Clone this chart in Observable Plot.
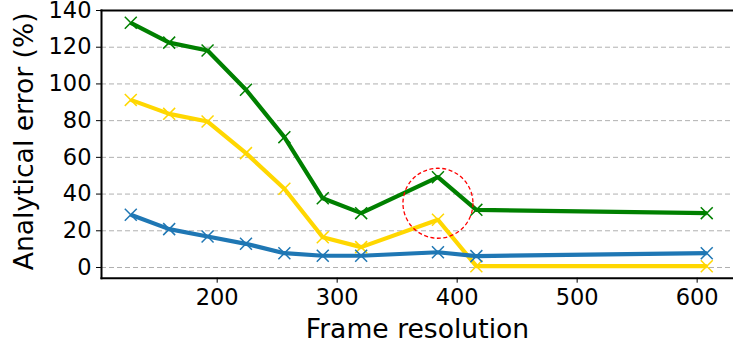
<!DOCTYPE html>
<html>
<head>
<meta charset="utf-8">
<script src="https://cdn.jsdelivr.net/npm/d3@7"></script>
<script src="https://cdn.jsdelivr.net/npm/@observablehq/plot@0.6"></script>
<style>
  html, body { margin: 0; padding: 0; background: #fff; }
  #chart svg { display: block; font-family: "DejaVu Sans", sans-serif; }
</style>
</head>
<body>
<div id="chart"></div>
<script>
// Frame resolution on the x axis
const resolutions = [128, 160, 192, 224, 256, 288, 320, 384, 416, 608];

// Analytical error (%) for each series
const seriesA = [133.3, 122.5, 118.2, 96.8, 71.0, 37.7, 29.6, 49.2, 31.4, 29.6];
const seriesB = [91.3, 83.7, 79.5, 62.3, 42.9, 16.5, 11.1, 26.0, 0.7, 0.7];
const seriesC = [28.7, 20.9, 16.9, 12.9, 7.8, 6.4, 6.4, 8.3, 6.2, 7.8];

const seriesNames  = ["A", "B", "C"];
const seriesColors = ["#008000", "#ffd700", "#1f77b4"];
const seriesValues = [seriesA, seriesB, seriesC];

const yTicks = [0, 20, 40, 60, 80, 100, 120, 140];
const xTicks = [200, 300, 400, 500, 600];

// Highlighted point (dashed circle) around resolution 384
const highlight = [{x: 384, y: 35}];

const rows = seriesNames.flatMap((name, i) =>
  resolutions.map((x, j) => ({series: name, x, y: seriesValues[i][j]}))
);

const W = 733, H = 345;
const font = "DejaVu Sans, sans-serif";

const chart = Plot.plot({
  width: W,
  height: H,
  marginLeft: 101,
  marginRight: 0,
  marginTop: 10,
  marginBottom: 67.3,
  style: {fontFamily: font, background: "#fff", overflow: "visible"},
  x: {domain: [103.6, 630.3], axis: null},
  y: {domain: [-5.83, 140], axis: null},
  color: {type: "ordinal", domain: seriesNames, range: seriesColors},
  marks: [
    Plot.gridY(yTicks.filter(d => d < 140), {stroke: "#b0b0b0", strokeOpacity: 1, strokeWidth: 1, strokeDasharray: "5,3"}),
    Plot.line(rows, {x: "x", y: "y", z: "series", stroke: "series", strokeWidth: 4.2, strokeLinejoin: "round", strokeLinecap: "butt"}),
    Plot.dot(rows, {x: "x", y: "y", stroke: "series", symbol: "times", r: 5.5, strokeWidth: 1.5}),
    Plot.dot(highlight, {x: "x", y: "y", r: 35, stroke: "red", fill: "none", strokeWidth: 1.3, strokeDasharray: "4,2.5"}),
    // spines
    Plot.frame({anchor: "left", stroke: "#000", strokeWidth: 2}),
    Plot.frame({anchor: "bottom", stroke: "#000", strokeWidth: 2}),
    Plot.frame({anchor: "top", stroke: "#000", strokeWidth: 2}),
    // axes
    Plot.axisY(yTicks, {tickSize: 5, tickPadding: 5, fontSize: 22.5, label: null, stroke: "#000", color: "#000"}),
    Plot.axisX(xTicks, {tickSize: 5, tickPadding: 6, fontSize: 22.5, label: null, stroke: "#000", color: "#000"}),
    Plot.text(["Frame resolution"], {frameAnchor: "bottom", dy: 60, fontSize: 26.6, fill: "#000", lineAnchor: "bottom"}),
    Plot.text(["Analytical error (%)"], {frameAnchor: "left", dx: -77, dy: -3, rotate: -90, fontSize: 26.6, fill: "#000", textAnchor: "middle"})
  ]
});

document.getElementById("chart").appendChild(chart);
</script>
</body>
</html>
